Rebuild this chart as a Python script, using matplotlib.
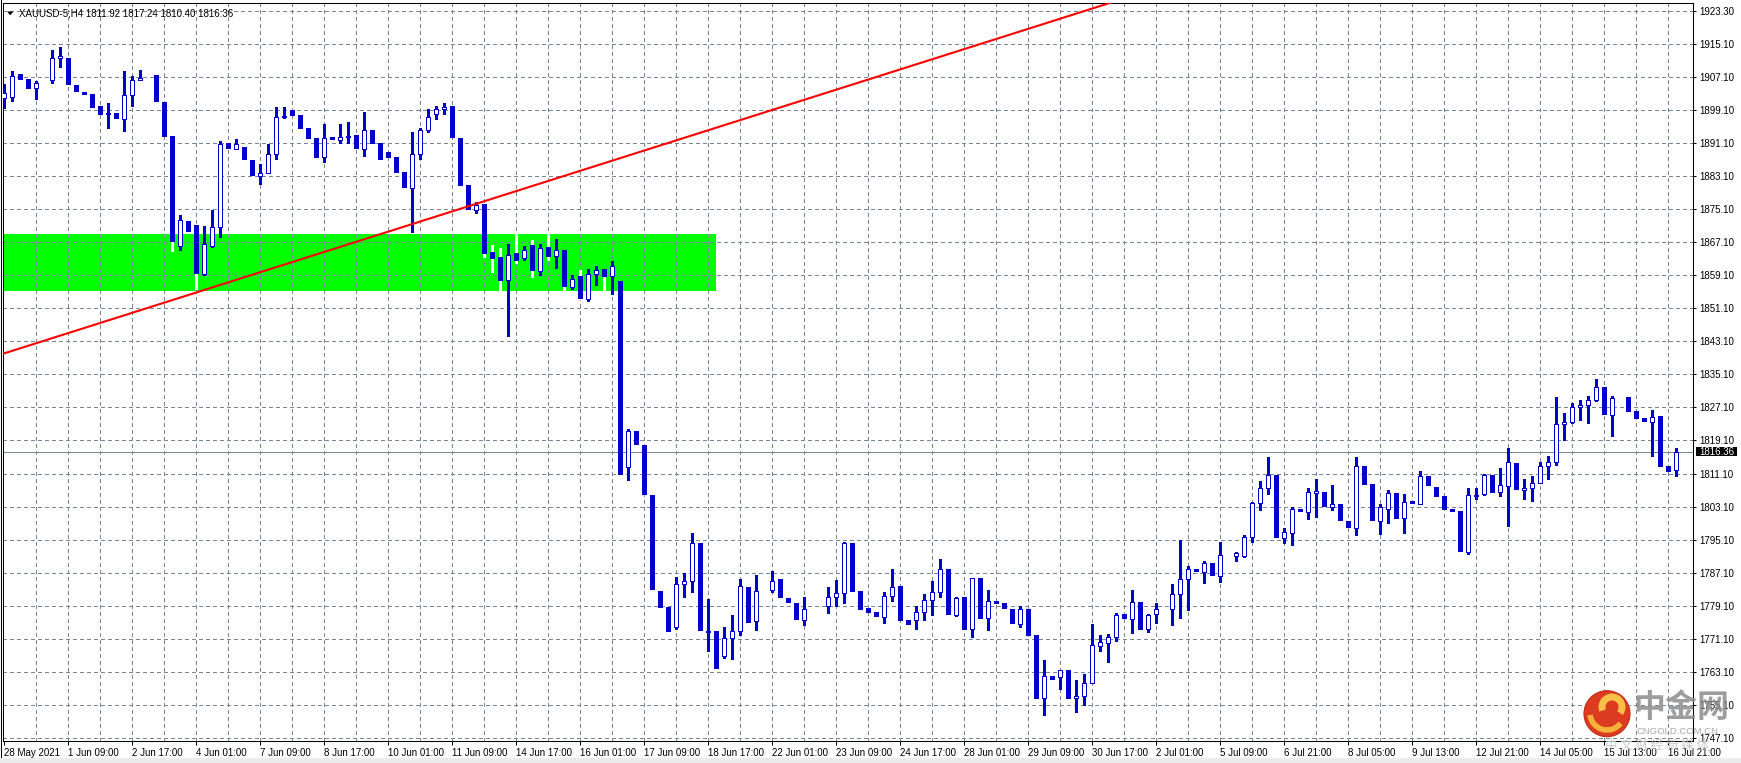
import matplotlib
matplotlib.use('Agg')
import matplotlib.pyplot as plt
from matplotlib.patches import Rectangle, Polygon, Ellipse, Arc
import numpy as np

# ---------------- data (H4 candles, XAUUSD) ----------------
opens = [1902.2, 1902.3, 1907.6, 1906.4, 1904.4, 1906.0, 1906.5, 1911.9, 1911.6, 1904.9,
         1903.3, 1902.7, 1899.8, 1898.1, 1898.1, 1896.9, 1902.9, 1906.5, 1907.0, 1907.4,
         1900.9, 1892.6, 1866.3, 1872.1, 1871.0, 1859.5, 1866.3, 1870.9, 1890.9, 1889.8,
         1889.9, 1886.8, 1883.3, 1884.0, 1888.4, 1897.4, 1898.9, 1897.7, 1894.5, 1892.1,
         1887.9, 1892.4, 1892.0, 1892.6, 1892.8, 1889.8, 1894.0, 1890.9, 1888.7, 1887.5,
         1883.8, 1880.4, 1888.4, 1894.4, 1898.1, 1899.5, 1899.8, 1892.1, 1880.7, 1875.0,
         1876.1, 1864.6, 1863.4, 1858.1, 1864.4, 1863.3, 1866.2, 1860.1, 1865.8, 1863.7,
         1864.9, 1856.3, 1858.7, 1853.5, 1859.5, 1860.3, 1858.9, 1857.5, 1812.7, 1821.2,
         1817.7, 1805.7, 1782.5, 1778.4, 1773.9, 1784.4, 1785.1, 1793.9, 1772.8, 1772.6,
         1766.9, 1771.3, 1772.9, 1783.4, 1775.3, 1782.7, 1782.9, 1785.2, 1780.8, 1779.6,
         1775.7, 1778.3, 1779.0, 1779.1, 1781.2, 1782.1, 1794.1, 1782.3, 1778.2, 1777.2,
         1776.3, 1781.5, 1783.5, 1775.3, 1775.7, 1777.6, 1780.5, 1782.4, 1787.8, 1776.9,
         1780.9, 1773.4, 1785.5, 1776.0, 1780.0, 1779.5, 1778.1, 1774.6, 1778.0, 1771.8,
         1756.6, 1761.8, 1761.9, 1763.3, 1756.6, 1757.2, 1760.3, 1769.4, 1770.0, 1771.4,
         1776.8, 1775.8, 1779.7, 1773.4, 1777.0, 1778.2, 1778.2, 1781.9, 1785.5, 1787.7,
         1787.2, 1789.2, 1786.2, 1791.3, 1791.1, 1791.2, 1795.7, 1803.9, 1807.6, 1810.5,
         1795.4, 1796.7, 1802.3, 1801.8, 1806.4, 1806.3, 1803.0, 1803.4, 1799.3, 1798.0,
         1812.6, 1808.3, 1799.7, 1802.6, 1806.1, 1800.2, 1804.1, 1803.8, 1810.2, 1807.6,
         1805.4, 1802.2, 1801.7, 1792.0, 1805.7, 1806.2, 1810.5, 1806.5, 1808.1, 1813.5,
         1807.2, 1807.7, 1808.9, 1812.8, 1813.8, 1823.2, 1823.7, 1827.1, 1827.6, 1829.0,
         1831.8, 1825.2, 1829.5, 1829.4, 1826.0, 1824.3, 1823.6, 1824.8, 1812.6, 1811.92]
highs = [1905.6, 1908.6, 1907.6, 1906.4, 1906.2, 1906.0, 1913.7, 1914.5, 1911.6, 1904.9,
         1903.3, 1902.7, 1899.8, 1900.9, 1898.1, 1908.6, 1907.4, 1908.8, 1907.0, 1907.4,
         1900.9, 1892.6, 1873.7, 1872.1, 1871.0, 1871.0, 1874.9, 1891.6, 1890.9, 1892.1,
         1889.9, 1886.8, 1886.2, 1890.9, 1899.9, 1899.9, 1898.9, 1897.7, 1894.5, 1892.1,
         1895.9, 1892.4, 1895.7, 1896.2, 1892.8, 1898.6, 1894.0, 1890.9, 1888.7, 1887.5,
         1883.8, 1893.8, 1894.8, 1899.5, 1900.1, 1900.8, 1899.8, 1892.1, 1880.7, 1876.9,
         1876.1, 1866.4, 1865.8, 1866.6, 1869.2, 1866.2, 1867.6, 1866.8, 1869.2, 1868.0,
         1865.2, 1859.1, 1860.5, 1860.7, 1861.3, 1860.3, 1862.5, 1857.5, 1821.8, 1821.2,
         1817.7, 1805.7, 1782.5, 1778.4, 1786.0, 1787.1, 1796.8, 1793.9, 1780.6, 1772.6,
         1773.8, 1776.7, 1785.6, 1783.4, 1786.4, 1782.7, 1787.6, 1785.2, 1780.8, 1779.6,
         1781.3, 1778.3, 1779.0, 1783.7, 1785.4, 1794.6, 1794.1, 1782.3, 1778.2, 1777.2,
         1782.3, 1787.9, 1783.5, 1775.3, 1778.9, 1782.0, 1785.0, 1790.3, 1787.8, 1781.1,
         1780.9, 1785.9, 1785.5, 1782.9, 1780.0, 1779.5, 1778.1, 1779.0, 1778.0, 1771.8,
         1766.0, 1761.8, 1763.6, 1763.3, 1761.1, 1762.6, 1774.7, 1772.0, 1772.3, 1777.3,
         1776.8, 1782.9, 1779.7, 1777.1, 1779.8, 1778.2, 1784.4, 1795.0, 1788.6, 1787.7,
         1789.9, 1789.2, 1794.5, 1791.3, 1792.2, 1796.2, 1804.3, 1809.3, 1815.2, 1810.5,
         1797.9, 1803.0, 1802.3, 1807.6, 1809.8, 1806.3, 1808.3, 1803.4, 1799.3, 1815.1,
         1812.6, 1808.3, 1803.7, 1807.1, 1806.1, 1806.1, 1804.1, 1811.7, 1810.2, 1807.6,
         1805.4, 1802.2, 1801.7, 1807.6, 1807.6, 1811.0, 1810.5, 1812.4, 1817.4, 1813.5,
         1809.7, 1810.5, 1813.8, 1815.3, 1829.6, 1825.7, 1828.1, 1829.0, 1829.9, 1834.0,
         1831.8, 1829.9, 1829.5, 1829.4, 1826.0, 1824.3, 1826.6, 1824.8, 1812.6, 1817.24]
lows = [1899.7, 1901.3, 1906.7, 1904.5, 1901.8, 1906.0, 1905.7, 1909.6, 1905.6, 1903.8,
        1903.1, 1899.9, 1898.2, 1894.8, 1897.3, 1894.1, 1900.1, 1906.5, 1907.0, 1901.4,
        1892.9, 1865.0, 1865.3, 1869.9, 1855.7, 1859.3, 1866.0, 1868.4, 1890.0, 1889.8,
        1887.2, 1883.4, 1881.2, 1883.8, 1887.4, 1897.3, 1897.9, 1894.9, 1892.4, 1887.9,
        1886.6, 1892.2, 1891.2, 1891.2, 1890.0, 1888.0, 1891.2, 1887.3, 1887.8, 1884.2,
        1880.5, 1869.5, 1887.2, 1893.9, 1896.9, 1898.1, 1892.7, 1880.9, 1875.2, 1874.2,
        1863.6, 1859.9, 1855.3, 1844.4, 1862.1, 1862.8, 1858.6, 1859.1, 1862.8, 1860.9,
        1855.5, 1855.9, 1853.5, 1852.9, 1856.7, 1855.3, 1854.7, 1811.0, 1809.6, 1818.2,
        1806.1, 1783.1, 1778.7, 1772.9, 1773.5, 1781.2, 1782.4, 1773.1, 1768.2, 1764.0,
        1766.4, 1766.1, 1771.9, 1775.1, 1773.3, 1782.7, 1782.4, 1781.2, 1779.9, 1775.8,
        1774.3, 1778.3, 1779.0, 1777.3, 1779.1, 1779.7, 1782.6, 1778.2, 1777.5, 1776.6,
        1774.9, 1780.1, 1775.5, 1774.6, 1773.4, 1775.5, 1776.7, 1781.2, 1777.1, 1776.6,
        1773.5, 1771.6, 1776.2, 1773.2, 1779.8, 1778.4, 1774.8, 1773.9, 1772.0, 1756.8,
        1752.5, 1761.2, 1758.9, 1756.8, 1753.4, 1754.9, 1760.3, 1768.2, 1765.5, 1770.4,
        1776.0, 1772.4, 1773.5, 1772.7, 1774.8, 1778.2, 1774.3, 1776.2, 1778.1, 1787.5,
        1784.5, 1786.4, 1784.7, 1791.3, 1789.8, 1790.8, 1794.4, 1802.3, 1806.2, 1795.6,
        1794.2, 1793.8, 1801.9, 1800.0, 1800.6, 1803.3, 1802.2, 1799.9, 1798.2, 1796.3,
        1808.6, 1799.9, 1796.5, 1799.2, 1800.4, 1796.6, 1804.0, 1803.8, 1808.4, 1805.7,
        1802.6, 1802.1, 1792.4, 1791.6, 1804.9, 1805.9, 1806.7, 1805.7, 1798.4, 1807.4,
        1804.9, 1804.5, 1808.7, 1809.8, 1813.1, 1819.2, 1823.4, 1824.0, 1823.4, 1828.7,
        1825.6, 1820.2, 1829.5, 1826.3, 1824.6, 1823.8, 1815.3, 1812.9, 1811.8, 1810.40]
closes = [1903.4, 1907.5, 1906.7, 1904.5, 1905.8, 1906.0, 1911.9, 1912.2, 1905.6, 1903.8,
          1903.1, 1899.9, 1898.2, 1898.4, 1897.3, 1902.9, 1906.5, 1907.0, 1907.0, 1901.4,
          1892.9, 1867.5, 1872.6, 1869.9, 1859.8, 1866.6, 1870.9, 1891.0, 1890.0, 1891.0,
          1887.2, 1883.4, 1884.0, 1888.4, 1897.4, 1897.8, 1897.9, 1894.9, 1892.4, 1887.9,
          1892.5, 1892.2, 1892.7, 1892.9, 1890.0, 1894.3, 1891.2, 1887.3, 1887.8, 1884.2,
          1880.5, 1888.6, 1894.4, 1897.6, 1899.5, 1900.0, 1892.7, 1880.9, 1875.2, 1876.1,
          1864.6, 1863.4, 1858.1, 1864.1, 1862.9, 1865.3, 1860.3, 1865.8, 1863.7, 1865.2,
          1856.5, 1858.3, 1853.6, 1859.5, 1860.3, 1858.9, 1861.5, 1811.0, 1821.5, 1818.2,
          1806.1, 1783.1, 1778.7, 1772.9, 1784.4, 1785.1, 1794.3, 1773.1, 1773.0, 1764.0,
          1771.3, 1773.0, 1783.9, 1775.1, 1782.7, 1782.7, 1785.1, 1781.2, 1779.9, 1775.8,
          1778.3, 1778.3, 1779.0, 1781.2, 1782.2, 1794.3, 1782.6, 1778.2, 1777.5, 1776.6,
          1781.5, 1783.7, 1775.5, 1774.6, 1777.6, 1780.5, 1782.4, 1788.0, 1777.1, 1781.0,
          1773.5, 1785.7, 1776.2, 1780.2, 1779.8, 1778.4, 1774.8, 1778.2, 1772.0, 1756.8,
          1762.0, 1761.2, 1763.5, 1756.8, 1757.2, 1760.3, 1769.5, 1770.2, 1771.4, 1776.8,
          1776.0, 1779.9, 1773.5, 1776.8, 1778.2, 1778.2, 1781.9, 1785.5, 1787.9, 1787.5,
          1789.4, 1786.4, 1791.3, 1791.3, 1791.8, 1795.7, 1803.9, 1807.6, 1810.7, 1795.6,
          1796.9, 1802.5, 1801.9, 1806.5, 1806.8, 1803.3, 1803.6, 1799.9, 1798.2, 1812.8,
          1808.6, 1799.9, 1803.0, 1806.3, 1800.4, 1804.3, 1804.0, 1810.4, 1808.4, 1805.7,
          1802.6, 1802.1, 1792.4, 1805.8, 1806.0, 1810.7, 1806.7, 1808.2, 1813.8, 1807.4,
          1807.6, 1808.9, 1812.8, 1813.8, 1823.2, 1823.7, 1827.1, 1827.6, 1828.8, 1832.0,
          1825.6, 1829.5, 1829.5, 1826.3, 1824.6, 1823.8, 1824.9, 1812.9, 1811.8, 1816.36]

x_labels = ["28 May 2021", "1 Jun 09:00", "2 Jun 17:00", "4 Jun 01:00", "7 Jun 09:00",
            "8 Jun 17:00", "10 Jun 01:00", "11 Jun 09:00", "14 Jun 17:00", "16 Jun 01:00",
            "17 Jun 09:00", "18 Jun 17:00", "22 Jun 01:00", "23 Jun 09:00", "24 Jun 17:00",
            "28 Jun 01:00", "29 Jun 09:00", "30 Jun 17:00", "2 Jul 01:00", "5 Jul 09:00",
            "6 Jul 21:00", "8 Jul 05:00", "9 Jul 13:00", "12 Jul 21:00", "14 Jul 05:00",
            "15 Jul 13:00", "16 Jul 21:00"]
y_labels = ["1747.10", "1755.10", "1763.10", "1771.10", "1779.10", "1787.10", "1795.10",
            "1803.10", "1811.10", "1819.10", "1827.10", "1835.10", "1843.10", "1851.10",
            "1859.10", "1867.10", "1875.10", "1883.10", "1891.10", "1899.10", "1907.10",
            "1915.10", "1923.30"]
y_levels = [1747.1 + 8 * k for k in range(len(y_labels))]

zone_low, zone_high = 1855.4, 1869.1      # green support box
zone_start, zone_end = -6.0, 88.96        # in bars
trend_bars = [5.5, 80.7]                  # red trend line anchors
trend_prices = [1843.6, 1889.8]
symbol = "XAUUSD-5,H4"

# ---------------- figure ----------------
plt.rcParams['font.family'] = ['Liberation Sans', 'DejaVu Sans']
W, H = 1741, 763
fig = plt.figure(figsize=(W / 100, H / 100), dpi=100)
fig.patch.set_facecolor('white')

L_px, R_px, T_px, B_px = 2.7, 1693.3, 2.7, 740.7
ax = fig.add_axes([L_px / W, 1 - B_px / H, (R_px - L_px) / W, (B_px - T_px) / H])
ax.set_facecolor('white')

BLUE = '#0000CD'
GRID = '#778899'
FS = 7.0

o = np.array(opens); h = np.array(highs); l = np.array(lows); c = np.array(closes)
idx = np.arange(len(o))
ax.set_xlim(-0.204, 211.12)
ax.set_ylim(1746.36, 1925.18)

# grid
for b in range(4, len(o), 4):
    ax.axvline(b, color=GRID, lw=0.72, dashes=(4, 3), zorder=1, antialiased=False)
for v in y_levels:
    ax.axhline(v, color=GRID, lw=0.72, dashes=(4, 3), zorder=1, antialiased=False)

# green zone
ax.add_patch(Rectangle((zone_start, zone_low), zone_end - zone_start, zone_high - zone_low,
                       facecolor='#00FF00', edgecolor='none', zorder=0.5))

# current price line
ax.axhline(c[-1], color=GRID, lw=0.72, zorder=1.5, antialiased=False)

bull = c > o
flat = c == o
bear = (~bull) & (~flat)
bottom = np.minimum(o, c)
height = np.abs(c - o)

ax.vlines(idx[bull], l[bull], h[bull], color=BLUE, lw=0.75, zorder=2, antialiased=False)
ax.vlines(idx[bear], l[bear], h[bear], color='white', lw=0.75, zorder=2, antialiased=False)
ax.bar(idx[bull], height[bull], bottom=bottom[bull], width=0.46, facecolor='white',
       edgecolor=BLUE, linewidth=0.72, zorder=3, antialiased=False)
ax.bar(idx[bear], height[bear], bottom=bottom[bear], width=0.42, facecolor=BLUE,
       edgecolor=BLUE, linewidth=0.25, zorder=3, antialiased=False)

# trend line (extended)
slope = (trend_prices[1] - trend_prices[0]) / (trend_bars[1] - trend_bars[0])
tx = np.array([-5, 260])
ty = trend_prices[0] + slope * (tx - trend_bars[0])
ax.plot(tx, ty, color='#FF0000', lw=1.5, zorder=4, solid_capstyle='butt')

# axes / ticks
for s in ax.spines.values():
    s.set_color('black'); s.set_linewidth(0.75)
ax.yaxis.tick_right()
ax.set_yticks(y_levels)
ax.set_yticklabels(y_labels, fontsize=FS)
ax.tick_params(axis='y', right=True, left=False, labelright=True, labelleft=False,
               length=2.2, width=0.72, pad=2.0, direction='out', colors='black')
ax.set_xticks(np.arange(len(x_labels)) * 8)
ax.set_xticklabels(x_labels, fontsize=FS, ha='left')
ax.tick_params(axis='x', length=3.0, width=0.72, pad=2.0, direction='out', colors='black')

# current price tag
ytr = ax.get_yaxis_transform()
ax.add_patch(Rectangle((1.0014, c[-1] - 1.1), 0.0245, 2.2, transform=ytr,
                       facecolor='black', edgecolor='none', clip_on=False, zorder=5))
ax.text(1.0036, c[-1], f"{c[-1]:.2f}", transform=ytr, color='white', fontsize=FS,
        va='center', ha='left', zorder=6, clip_on=False)

# header
def fx(x): return x / W
def fy(y): return 1 - y / H
fig.add_artist(Polygon([(fx(7), fy(11.5)), (fx(13.4), fy(11.5)), (fx(10.2), fy(15.3))],
                       closed=True, facecolor='black', edgecolor='none',
                       transform=fig.transFigure))
fig.text(fx(19), fy(13.4),
         f"{symbol} {o[-1]:.2f} {h[-1]:.2f} {l[-1]:.2f} {c[-1]:.2f}",
         fontsize=FS, va='center', ha='left', color='black')

# outer frame bits
fig.add_artist(plt.Line2D([fx(0.5), fx(0.5)], [fy(0), fy(757)], color='black', lw=0.75,
                          transform=fig.transFigure))
fig.add_artist(Rectangle((0, 0), 1, 5 / H, transform=fig.transFigure,
                         facecolor='#ececec', edgecolor='none'))

# watermark (cngold)
cx, cy, r = 1607, 713.7, 23
fig.add_artist(Ellipse((fx(cx), fy(cy)), 2 * r / W, 2 * r / H, transform=fig.transFigure,
                       facecolor='#DB3B1F', edgecolor='#C22A1A', lw=0.8))
fig.add_artist(Arc((fx(1612), fy(707)), 20 / W, 20 / H, theta1=-60, theta2=220,
                   transform=fig.transFigure, color='#F7C046', lw=5.0))
fig.add_artist(Arc((fx(1607), fy(713)), 34 / W, 34 / H, theta1=195, theta2=300,
                   transform=fig.transFigure, color='#F5B23A', lw=4.0))
fig.text(fx(1681), fy(708), "中金网", family=['Noto Sans CJK SC', 'DejaVu Sans'],
         fontsize=23, fontweight='bold', color='#8c8c8c', alpha=0.85,
         ha='center', va='center')
fig.text(fx(1677), fy(731.5), "CNGOLD.COM.CN", fontsize=6.8, color='#a8a8a8',
         ha='center', va='center')
fig.text(fx(1657), fy(745.5), "中 文 财 经 新 媒 体", family=['Noto Sans CJK SC', 'DejaVu Sans'],
         fontsize=9, color='#c4c4c4', alpha=0.9, ha='center', va='center')

fig.savefig('out.png', dpi=100, facecolor='white')
